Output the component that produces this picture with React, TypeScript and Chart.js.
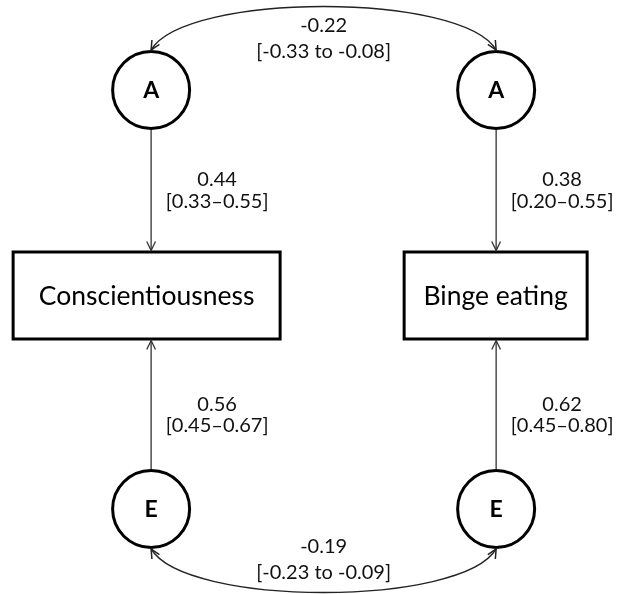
import { useEffect, useRef } from 'react';
import { Chart, registerables } from 'chart.js';

Chart.register(...registerables);

// ---- Data ----
const traitColumns = [0, 1];
const observedLabels = ['Conscientiousness', 'Binge eating'];
const observedRow = 1;
const latentRows = [0, 2];
const latentLabels = ['A', 'E'];

// Standardised path loadings (latent -> trait), per trait column
const aLoadings = [0.44, 0.38];
const aLower = [0.33, 0.2];
const aUpper = [0.55, 0.55];
const eLoadings = [0.56, 0.62];
const eLower = [0.45, 0.45];
const eUpper = [0.67, 0.8];

// Correlations between latent factors across traits: [A-A, E-E]
const covEstimates = [-0.22, -0.19];
const covLower = [-0.33, -0.23];
const covUpper = [-0.08, -0.09];

// ---- Styles ----
const FONT = 'Lato, "Noto Sans", sans-serif';
const CIRCLE_R = 38.5;
const BOX_W = [267, 183];
const BOX_DX = [-4.5, -0.5];
const BOX_DY = -4;
const BOX_H = 87;
const HEAD_LEN = 10;
const HEAD_ANG = 0.45;

const f2 = (v: number) => v.toFixed(2);

function arrowHead(ctx: CanvasRenderingContext2D, x: number, y: number, ang: number) {
  ctx.beginPath();
  ctx.moveTo(x + HEAD_LEN * Math.cos(ang + Math.PI - HEAD_ANG), y + HEAD_LEN * Math.sin(ang + Math.PI - HEAD_ANG));
  ctx.lineTo(x, y);
  ctx.lineTo(x + HEAD_LEN * Math.cos(ang + Math.PI + HEAD_ANG), y + HEAD_LEN * Math.sin(ang + Math.PI + HEAD_ANG));
  ctx.stroke();
}

const diagramPlugin = {
  id: 'pathDiagram',
  afterDatasetsDraw(chart: any) {
    const ctx: CanvasRenderingContext2D = chart.ctx;
    const xs = chart.scales.x;
    const ys = chart.scales.y;
    ctx.save();
    ctx.fillStyle = '#fff';
    ctx.fillRect(0, 0, chart.width, chart.height);

    const oy = ys.getPixelForValue(observedRow) + BOX_DY;
    const latY = latentRows.map((r) => ys.getPixelForValue(r));
    const colX = traitColumns.map((c) => xs.getPixelForValue(c));

    // Circles
    ctx.strokeStyle = '#000';
    ctx.lineWidth = 3;
    colX.forEach((cx) => {
      latY.forEach((ly, li) => {
        ctx.beginPath();
        ctx.arc(cx, ly, CIRCLE_R, 0, Math.PI * 2);
        ctx.stroke();
        ctx.fillStyle = '#000';
        ctx.font = `bold 23px ${FONT}`;
        ctx.textAlign = 'center';
        ctx.textBaseline = 'middle';
        ctx.fillText(latentLabels[li], cx, ly + 1);
      });
    });

    // Boxes
    colX.forEach((cx, i) => {
      const bx = cx + BOX_DX[i];
      ctx.lineWidth = 3;
      ctx.strokeStyle = '#000';
      ctx.strokeRect(bx - BOX_W[i] / 2, oy - BOX_H / 2, BOX_W[i], BOX_H);
      ctx.fillStyle = '#000';
      ctx.font = `26.5px ${FONT}`;
      ctx.textAlign = 'center';
      ctx.textBaseline = 'middle';
      ctx.fillText(observedLabels[i], bx, oy + 1);
    });

    const outer = CIRCLE_R + 1.5;
    const boxEdge = BOX_H / 2 + 1.5;

    // Vertical paths
    ctx.strokeStyle = '#333';
    ctx.lineWidth = 1.3;
    colX.forEach((cx, i) => {
      // A -> box
      const y0 = latY[0] + outer;
      const y1 = oy - boxEdge;
      ctx.beginPath();
      ctx.moveTo(cx, y0);
      ctx.lineTo(cx, y1);
      ctx.stroke();
      arrowHead(ctx, cx, y1, Math.PI / 2);
      // E -> box
      const e0 = latY[1] - outer;
      const e1 = oy + boxEdge;
      ctx.beginPath();
      ctx.moveTo(cx, e0);
      ctx.lineTo(cx, e1);
      ctx.stroke();
      arrowHead(ctx, cx, e1, -Math.PI / 2);

      ctx.fillStyle = '#111';
      ctx.font = `20px ${FONT}`;
      ctx.textAlign = 'center';
      ctx.textBaseline = 'middle';
      const lx = cx + 66;
      const ta = (y0 + y1) / 2;
      ctx.fillText(f2(aLoadings[i]), lx, ta - 11);
      ctx.fillText(`[${f2(aLower[i])}\u2013${f2(aUpper[i])}]`, lx, ta + 11);
      const tb = (e0 + e1) / 2 + 10;
      ctx.fillText(f2(eLoadings[i]), lx, tb - 10);
      ctx.fillText(`[${f2(eLower[i])}\u2013${f2(eUpper[i])}]`, lx, tb + 11);
    });

    // Curved double-headed arrows
    latY.forEach((ly, k) => {
      const s = k === 0 ? -1 : 1;
      const p0 = { x: colX[0], y: ly + s * outer };
      const p3 = { x: colX[1], y: ly + s * outer };
      const p1 = { x: p0.x + 34, y: p0.y + s * 58 };
      const p2 = { x: p3.x - 34, y: p3.y + s * 58 };
      ctx.strokeStyle = '#222';
      ctx.lineWidth = 1.5;
      ctx.beginPath();
      ctx.moveTo(p0.x, p0.y);
      ctx.bezierCurveTo(p1.x, p1.y, p2.x, p2.y, p3.x, p3.y);
      ctx.stroke();
      arrowHead(ctx, p0.x, p0.y, Math.atan2(p0.y - p1.y, p0.x - p1.x));
      arrowHead(ctx, p3.x, p3.y, Math.atan2(p3.y - p2.y, p3.x - p2.x));

      const mx = (colX[0] + colX[1]) / 2;
      const my = ly + s * 51;
      ctx.fillStyle = '#111';
      ctx.font = `20px ${FONT}`;
      ctx.textAlign = 'center';
      ctx.textBaseline = 'middle';
      ctx.fillText(f2(covEstimates[k]), mx, my - 13);
      ctx.fillText(`[${f2(covLower[k])} to ${f2(covUpper[k])}]`, mx, my + 13);
    });

    ctx.restore();
  },
};

export default function App() {
  const ref = useRef<HTMLCanvasElement | null>(null);
  useEffect(() => {
    if (!ref.current) return;
    const points: { x: number; y: number }[] = [];
    traitColumns.forEach((c) => {
      points.push({ x: c, y: observedRow });
      latentRows.forEach((r) => points.push({ x: c, y: r }));
    });
    const chart = new Chart(ref.current, {
      type: 'scatter',
      data: { datasets: [{ data: points, pointRadius: 0 }] },
      options: {
        animation: false,
        responsive: false,
        devicePixelRatio: 1,
        layout: { padding: 0 },
        plugins: { legend: { display: false }, tooltip: { enabled: false } },
        scales: {
          x: { type: 'linear', min: -0.438, max: 1.388, display: false },
          y: { type: 'linear', min: -0.4296, max: 2.4058, reverse: true, display: false },
        },
      },
      plugins: [diagramPlugin],
    });
    return () => chart.destroy();
  }, []);
  return (
    <div style={{ position: 'fixed', left: 0, top: 0, width: 630, height: 594, background: '#fff' }}>
      <canvas ref={ref} width={630} height={594} style={{ display: 'block' }} />
    </div>
  );
}
